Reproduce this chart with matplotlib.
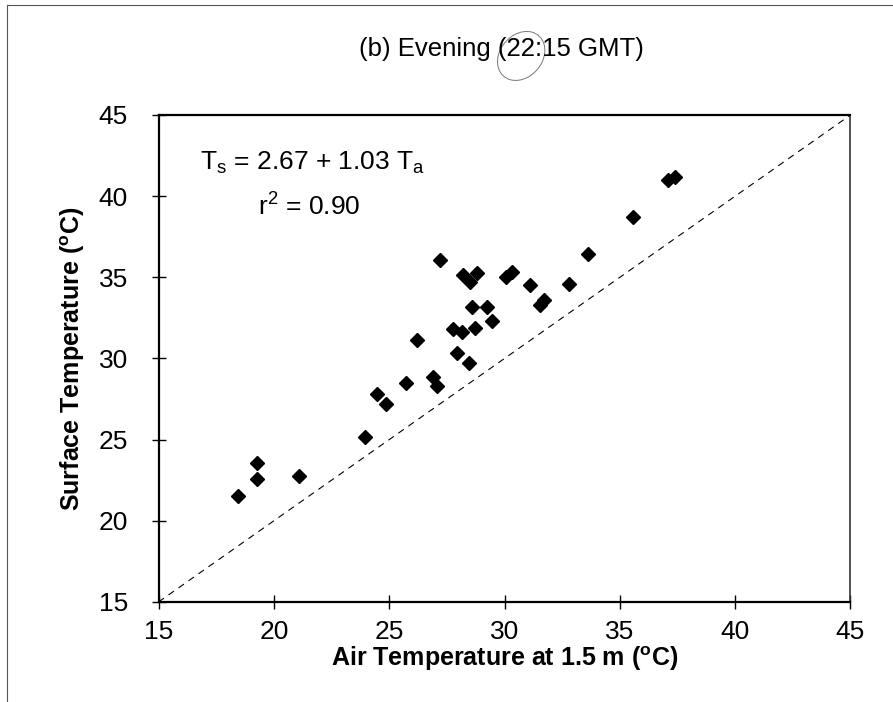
import matplotlib
matplotlib.use("Agg")
import matplotlib.pyplot as plt
from matplotlib.lines import Line2D
from matplotlib.patches import Ellipse

plt.rcParams["font.family"] = ["Liberation Sans", "DejaVu Sans"]
plt.rcParams["mathtext.fontset"] = "custom"
plt.rcParams["mathtext.rm"] = "Liberation Sans"
plt.rcParams["mathtext.it"] = "Liberation Sans:italic"
plt.rcParams["mathtext.bf"] = "Liberation Sans:bold"

# air temperature (x) and surface temperature (y)
air_temp = [
    18.46, 19.26, 19.26, 21.09, 23.95, 24.46, 24.85, 25.72,
    26.2, 26.91, 27.06, 27.20, 27.78, 27.93, 28.14, 28.19,
    28.47, 28.50, 28.58, 28.72, 28.79, 29.23, 29.44, 30.06,
    30.31, 31.10, 31.54, 31.71, 32.79, 33.63, 35.58, 37.10, 37.39,
]
surf_temp = [
    21.55, 23.54, 22.57, 22.76, 25.14, 27.79, 27.17, 28.51,
    31.14, 28.88, 28.30, 36.07, 31.80, 30.32, 31.65, 35.14,
    29.70, 34.73, 33.15, 31.86, 35.25, 33.15, 32.33, 35.04,
    35.35, 34.53, 33.29, 33.60, 34.57, 36.44, 38.70, 41.00, 41.20,
]
one_to_one = [15, 45]
ticks = [15, 20, 25, 30, 35, 40, 45]
title = "(b) Evening (22:15 GMT)"

fig = plt.figure(figsize=(8.93, 7.02), dpi=100, facecolor="white")
ax = fig.add_axes([0.1775, 0.1425, 0.7749, 0.6937])

ax.plot(one_to_one, one_to_one, color="black", linewidth=0.8,
        dashes=(6, 5))
ax.plot(air_temp, surf_temp, linestyle="none", marker="D", markersize=7.2,
        color="black", markeredgewidth=1)

ax.set_xlim(15, 45)
ax.set_ylim(15, 45)
ax.set_xticks(ticks)
ax.set_yticks(ticks)
ax.tick_params(direction="inout", length=10, width=1, labelsize=19)
ax.tick_params(axis="x", pad=8)
ax.tick_params(axis="y", pad=17)
for side in ["left", "bottom", "top"]:
    ax.spines[side].set_linewidth(1.6)
ax.spines["right"].set_linewidth(1.2)
ax.spines["right"].set_color("#333333")

ax.set_xlabel(r"Air Temperature at 1.5 m ($^\mathbf{o}$C)", fontsize=18,
              fontweight="bold", labelpad=0)
ax.set_ylabel(r"Surface Temperature ($^\mathbf{o}$C)", fontsize=18,
              fontweight="bold", labelpad=8)

ax.text(0.06, 0.901, r"T$_\mathrm{s}$ = 2.67 + 1.03 T$_\mathrm{a}$",
        transform=ax.transAxes, fontsize=19, va="center", ha="left")
ax.text(0.144, 0.811, r"r$^\mathrm{2}$ = 0.90",
        transform=ax.transAxes, fontsize=19, va="center", ha="left")

title_txt = fig.text(0.562, 0.93, title, fontsize=18.5,
                     ha="center", va="center")

# hand-drawn circle around "22": find where "22" sits in the title
fig.canvas.draw()
renderer = fig.canvas.get_renderer()
full = title_txt.get_window_extent(renderer)
probe = fig.text(0, 0, title[:title.index("22")], fontsize=18.5)
pre_w = probe.get_window_extent(renderer).width
probe2 = fig.text(0, 0, title[:title.index("22") + 2], fontsize=18.5)
mid_w = probe2.get_window_extent(renderer).width
probe.remove()
probe2.remove()
cx = (full.x0 + (pre_w + mid_w) / 2) / fig.bbox.width
cy = (full.y0 + full.height * 0.45) / fig.bbox.height - 0.008
fig.add_artist(Ellipse((cx, cy), 0.05, 0.072, angle=-20,
                       transform=fig.transFigure, fill=False,
                       edgecolor="#777777", linewidth=0.7))

# scan frame
fig.add_artist(Line2D([0.008, 0.008], [0.0, 0.993], color="#555555",
                      linewidth=0.8, transform=fig.transFigure))
fig.add_artist(Line2D([0.008, 1.0], [0.993, 0.993], color="#555555",
                      linewidth=0.8, transform=fig.transFigure))

fig.savefig("out.png", dpi=100)
